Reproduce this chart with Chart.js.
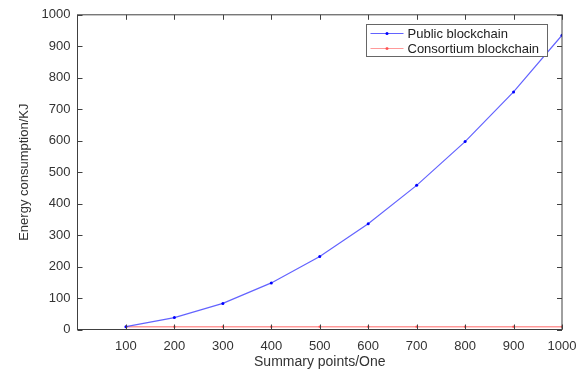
<!DOCTYPE html>
<html>
<head>
<meta charset="utf-8">
<script src="https://cdn.jsdelivr.net/npm/chart.js@4/dist/chart.umd.min.js"></script>
<style>
  body { margin: 0; background: #fff; }
  #wrap { width: 587px; height: 371px; }
</style>
</head>
<body>
<div id="wrap"><canvas id="energyChart" width="587" height="371"></canvas></div>
<script>
// values
var summaryPoints = [100, 200, 300, 400, 500, 600, 700, 800, 900, 1000];
var publicEnergy = [9, 38, 83, 148, 232, 336, 458, 597, 755, 935];
var consortiumEnergy = [9, 9, 9, 9, 9, 9, 9, 9, 9, 9];
var xTicks = [100, 200, 300, 400, 500, 600, 700, 800, 900, 1000];
var yTicks = [0, 100, 200, 300, 400, 500, 600, 700, 800, 900, 1000];
var seriesNames = ['Public blockchain', 'Consortium blockchain'];

var fontFam = '"Liberation Sans", Arial, Helvetica, sans-serif';
var axisColor = '#404040';
var textColor = '#333';

function toXY(xs, ys) {
    var out = [];
    for (var i = 0; i < xs.length; i++) {
        out.push({x: xs[i], y: ys[i]});
    }
    return out;
}

// box, inner tick marks and the legend, matlab style
var framePlugin = {
    id: 'frame',
    afterDraw: function (chart) {
        var ctx = chart.ctx;
        var a = chart.chartArea;
        var xs = chart.scales.x, ys = chart.scales.y;
        ctx.save();
        ctx.strokeStyle = axisColor;
        ctx.lineWidth = 1;
        ctx.beginPath();
        xTicks.forEach(function (v) {
            var px = Math.round(xs.getPixelForValue(v)) + 0.5;
            ctx.moveTo(px, a.bottom); ctx.lineTo(px, a.bottom - 5);
            ctx.moveTo(px, a.top); ctx.lineTo(px, a.top + 5);
        });
        yTicks.forEach(function (v) {
            var py = Math.round(ys.getPixelForValue(v)) + 0.5;
            ctx.moveTo(a.left, py); ctx.lineTo(a.left + 5, py);
            ctx.moveTo(a.right, py); ctx.lineTo(a.right - 5, py);
        });
        ctx.stroke();
        ctx.strokeRect(a.left, a.top, a.right - a.left, a.bottom - a.top);

        // legend
        var lx = 366.5, ly = 24.5, lw = 181, lh = 32;
        ctx.fillStyle = '#fff';
        ctx.fillRect(lx, ly, lw, lh);
        ctx.strokeStyle = '#666';
        ctx.strokeRect(lx, ly, lw, lh);
        ctx.font = '13px ' + fontFam;
        ctx.textBaseline = 'middle';
        chart.data.datasets.forEach(function (ds, i) {
            var cy = ly + 9 + i * 15;
            ctx.strokeStyle = ds.borderColor;
            ctx.lineWidth = 1;
            ctx.beginPath();
            ctx.moveTo(lx + 4, cy); ctx.lineTo(lx + 37, cy);
            ctx.stroke();
            ctx.fillStyle = ds.pointBackgroundColor;
            ctx.beginPath();
            ctx.arc(lx + 20.5, cy, 1.5, 0, Math.PI * 2);
            ctx.fill();
            ctx.fillStyle = '#222';
            ctx.fillText(ds.label, lx + 41, cy + 0.5);
        });
        ctx.restore();
    }
};

var ctx = document.getElementById('energyChart').getContext('2d');
new Chart(ctx, {
    type: 'line',
    data: {
        datasets: [
            {
                label: seriesNames[0],
                data: toXY(summaryPoints, publicEnergy),
                borderColor: 'rgba(60,60,255,0.8)',
                pointBackgroundColor: '#0000ff',
                pointBorderColor: '#0000ff',
                borderWidth: 1.2,
                pointRadius: 1.5,
                pointBorderWidth: 0,
                tension: 0
            },
            {
                label: seriesNames[1],
                data: toXY(summaryPoints, consortiumEnergy),
                borderColor: 'rgba(255,110,110,0.7)',
                pointBackgroundColor: 'rgba(255,60,60,0.8)',
                pointBorderColor: 'rgba(255,60,60,0.8)',
                borderWidth: 1.5,
                pointRadius: 1.2,
                pointBorderWidth: 0,
                tension: 0
            }
        ]
    },
    options: {
        responsive: false,
        animation: false,
        devicePixelRatio: 1,
        layout: {padding: {top: 12, right: 25, left: 0, bottom: 0}},
        plugins: {
            legend: {display: false},
            tooltip: {enabled: false}
        },
        scales: {
            x: {
                type: 'linear',
                min: 0,
                max: 1000,
                afterFit: function (scale) { scale.height = 41.5; },
                afterBuildTicks: function (scale) {
                    scale.ticks = xTicks.map(function (v) { return {value: v}; });
                },
                grid: {display: false, drawTicks: false},
                border: {display: false},
                ticks: {
                    color: textColor,
                    padding: 9,
                    maxRotation: 0,
                    font: {family: fontFam, size: 13},
                    callback: function (v) { return String(v); }
                },
                title: {
                    display: true,
                    text: 'Summary points/One',
                    color: textColor,
                    padding: {top: 3, bottom: 0},
                    font: {family: fontFam, size: 14}
                }
            },
            y: {
                type: 'linear',
                min: 0,
                max: 1000,
                afterFit: function (scale) { scale.width = 77.5; },
                afterBuildTicks: function (scale) {
                    scale.ticks = yTicks.map(function (v) { return {value: v}; });
                },
                grid: {display: false, drawTicks: false},
                border: {display: false},
                ticks: {
                    color: textColor,
                    padding: 7,
                    font: {family: fontFam, size: 13},
                    callback: function (v) { return String(v); }
                },
                title: {
                    display: true,
                    text: 'Energy consumption/KJ',
                    color: textColor,
                    padding: {top: 17, bottom: 0},
                    font: {family: fontFam, size: 13}
                }
            }
        }
    },
    plugins: [framePlugin]
});
</script>
</body>
</html>
